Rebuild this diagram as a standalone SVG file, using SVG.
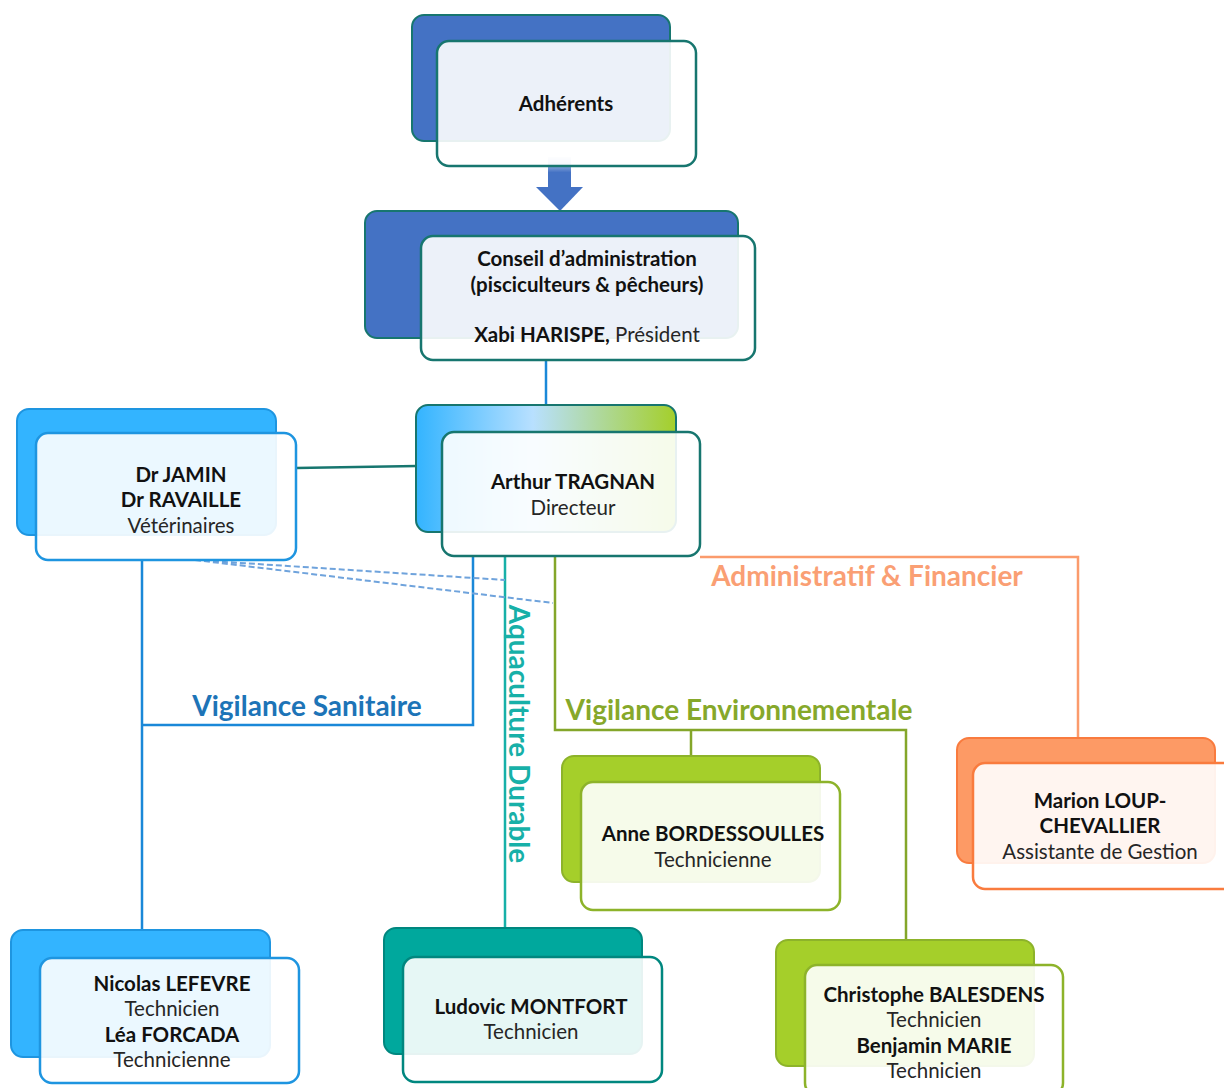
<svg xmlns="http://www.w3.org/2000/svg" width="1224" height="1088" viewBox="0 0 1224 1088">
<defs>
<linearGradient id="gArthur" x1="0" y1="0" x2="1" y2="0">
<stop offset="0" stop-color="#33b4ff"/>
<stop offset="0.45" stop-color="#b8e0ff"/>
<stop offset="1" stop-color="#a4cf2a"/>
</linearGradient>
<linearGradient id="gShaft" x1="0" y1="0" x2="0" y2="1">
<stop offset="0" stop-color="#dfe7f5"/>
<stop offset="0.5" stop-color="#4472c4"/>
</linearGradient>
<style>
.back{stroke-width:2}
.front{fill:#ffffff;fill-opacity:0.9;stroke-width:2.5}
.t{font-family:Lato,"Liberation Sans",sans-serif;font-size:20.5px;text-anchor:middle;fill:#262626}
.b{font-weight:bold;fill:#111111}
.lbl{font-family:Lato,"Liberation Sans",sans-serif;font-size:28px;font-weight:bold}
.c{fill:none;stroke-width:2.5}
</style>
</defs>

<g id="connectors">
<rect x="548" y="157" width="23" height="31" fill="url(#gShaft)"/>
<polygon points="536,187 583,187 560,211" fill="#4472c4"/>
<line x1="546" y1="360" x2="546" y2="406" stroke="#1a88d8" class="c"/>
<line x1="296" y1="468" x2="417" y2="466" stroke="#17766f" class="c"/>
<path d="M142,560 V931 M142,725 H473 V556" stroke="#1a88d8" class="c"/>
<line x1="505" y1="556" x2="505" y2="929" stroke="#17b0a8" class="c"/>
<path d="M555,556 V730 H906 V941 M691,730 V757" stroke="#84a62a" class="c"/>
<path d="M700,557 H1078 V739" stroke="#fb9b6c" class="c"/>
<path d="M195,560 L505,580 M195,560 L553,603" stroke="#6fa3dc" stroke-width="2" stroke-dasharray="6,3" fill="none"/>
<text class="lbl" x="307" y="716" text-anchor="middle" fill="#1d74b7">Vigilance Sanitaire</text>
<text class="lbl" x="739" y="720" text-anchor="middle" fill="#86a82a">Vigilance Environnementale</text>
<text class="lbl" x="867" y="586" text-anchor="middle" fill="#fa9f74">Administratif &amp; Financier</text>
<text class="lbl" transform="translate(509,734) rotate(90)" text-anchor="middle" fill="#17b0a8">Aquaculture Durable</text>
</g>

<g id="adherents">
<rect class="back" x="412" y="15" width="258" height="126" rx="12" fill="#4472c4" stroke="#17766f"/>
<rect class="front" x="437" y="41" width="259" height="125" rx="12" stroke="#17766f"/>
<text class="t b" x="566" y="111">Adhérents</text>
</g>

<g id="conseil">
<rect class="back" x="365" y="211" width="373" height="127" rx="12" fill="#4472c4" stroke="#17766f"/>
<rect class="front" x="421" y="236" width="334" height="124" rx="12" stroke="#17766f"/>
<text class="t b" x="587" y="266">Conseil d’administration</text>
<text class="t b" x="587" y="292">(pisciculteurs &amp; pêcheurs)</text>
<text class="t" x="587" y="342"><tspan class="b">Xabi HARISPE,</tspan> Président</text>
</g>

<g id="directeur">
<rect class="back" x="416" y="405" width="260" height="127" rx="12" fill="url(#gArthur)" stroke="#17766f"/>
<rect class="front" x="442" y="432" width="258" height="124" rx="12" stroke="#17766f"/>
<text class="t b" x="573" y="489">Arthur TRAGNAN</text>
<text class="t" x="573" y="515">Directeur</text>
</g>

<g id="veterinaires">
<rect class="back" x="17" y="409" width="259" height="126" rx="12" fill="#33b4ff" stroke="#1e95e0"/>
<rect class="front" x="36" y="433" width="260" height="127" rx="12" stroke="#1e95e0"/>
<text class="t b" x="181" y="482">Dr JAMIN</text>
<text class="t b" x="181" y="507">Dr RAVAILLE</text>
<text class="t" x="181" y="533">Vétérinaires</text>
</g>

<g id="bordessoulles">
<rect class="back" x="562" y="756" width="258" height="126" rx="12" fill="#a5cf2a" stroke="#8db32a"/>
<rect class="front" x="581" y="782" width="259" height="128" rx="12" stroke="#8db32a"/>
<text class="t b" x="713" y="841">Anne BORDESSOULLES</text>
<text class="t" x="713" y="867">Technicienne</text>
</g>

<g id="loup-chevallier">
<rect class="back" x="957" y="738" width="258" height="125" rx="12" fill="#fd9a65" stroke="#f97b3e"/>
<rect class="front" x="973" y="763" width="262" height="126" rx="12" stroke="#f97b3e"/>
<text class="t b" x="1100" y="808">Marion LOUP-</text>
<text class="t b" x="1100" y="833">CHEVALLIER</text>
<text class="t" x="1100" y="859">Assistante de Gestion</text>
</g>

<g id="lefevre-forcada">
<rect class="back" x="11" y="930" width="259" height="127" rx="12" fill="#33b4ff" stroke="#1e95e0"/>
<rect class="front" x="40" y="958" width="259" height="125" rx="12" stroke="#1e95e0"/>
<text class="t b" x="172" y="991">Nicolas LEFEVRE</text>
<text class="t" x="172" y="1016">Technicien</text>
<text class="t b" x="172" y="1042">Léa FORCADA</text>
<text class="t" x="172" y="1067">Technicienne</text>
</g>

<g id="montfort">
<rect class="back" x="384" y="928" width="258" height="126" rx="12" fill="#00a89d" stroke="#00877f"/>
<rect class="front" x="403" y="957" width="259" height="125" rx="12" stroke="#00877f"/>
<text class="t b" x="531" y="1014">Ludovic MONTFORT</text>
<text class="t" x="531" y="1039">Technicien</text>
</g>

<g id="balesdens-marie">
<rect class="back" x="776" y="940" width="258" height="126" rx="12" fill="#a5cf2a" stroke="#8db32a"/>
<rect class="front" x="805" y="965" width="258" height="130" rx="12" stroke="#8db32a"/>
<text class="t b" x="934" y="1002">Christophe BALESDENS</text>
<text class="t" x="934" y="1027">Technicien</text>
<text class="t b" x="934" y="1053">Benjamin MARIE</text>
<text class="t" x="934" y="1078">Technicien</text>
</g>
</svg>
